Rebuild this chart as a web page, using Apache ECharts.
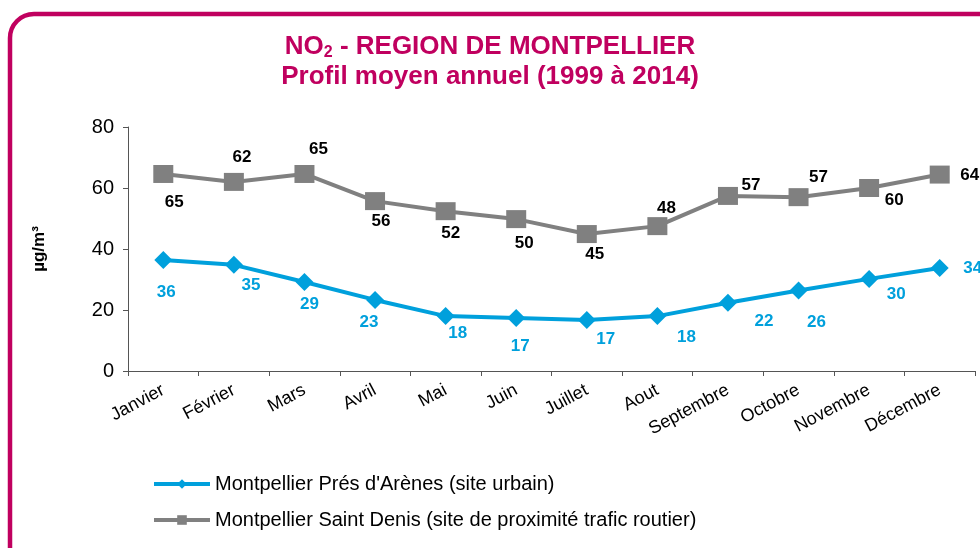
<!DOCTYPE html>
<html>
<head>
<meta charset="utf-8">
<script src="https://cdn.jsdelivr.net/npm/echarts@6/dist/echarts.min.js"></script>
<style>
  html, body { margin: 0; padding: 0; background: #fff; }
  #chart { width: 980px; height: 548px; }
</style>
</head>
<body>
<div id="chart"></div>
<script>
// data
var months = ['Janvier', 'Février', 'Mars', 'Avril', 'Mai', 'Juin', 'Juillet', 'Aout', 'Septembre', 'Octobre', 'Novembre', 'Décembre'];
var presArenes = [36.4, 34.8, 29.2, 23.3, 18.0, 17.4, 16.7, 18.0, 22.4, 26.4, 30.2, 33.8];
var saintDenis = [64.6, 62.0, 64.6, 55.7, 52.4, 49.8, 44.9, 47.5, 57.4, 57.0, 60.0, 64.4];
var yTicks = [0, 20, 40, 60, 80];
var seriesNames = ['Montpellier Prés d\'Arènes (site urbain)', 'Montpellier Saint Denis (site de proximité trafic routier)'];

var FONT = '"Liberation Sans", Arial, sans-serif';
var MAGENTA = '#c0005f';
var BLUE = '#00a0dc';
var GREY = '#808080';

// label placement (pixel offsets from each marker), as in the original
var blueOffsets = [[3, 32], [17, 20], [5, 22], [-6, 22], [12, 17], [4, 28], [19, 19], [29, 21], [36, 19], [18, 32], [27, 15], [33, 0]];
var greyOffsets = [[11, 28], [8, -25], [14, -25], [6, 20], [5, 22], [8, 24], [8, 20], [9, -18], [23, -11], [20, -20], [25, 12], [30, 1]];

function withLabels(values, offsets) {
  return values.map(function (v, i) {
    return { value: v, label: { offset: offsets[i] } };
  });
}

var myChart = echarts.init(document.getElementById('chart'));

var option = {
  animation: false,
  textStyle: { fontFamily: FONT },
  graphic: [{
    type: 'rect',
    shape: { x: 10, y: 14, width: 1000, height: 600, r: 24 },
    style: { fill: 'none', stroke: MAGENTA, lineWidth: 4.5 },
    silent: true
  }],
  title: {
    left: 'center',
    top: 27,
    text: '{t|NO}{s|2}{t| - REGION DE MONTPELLIER}\n{t|Profil moyen annuel (1999 à 2014)}',
    textStyle: {
      rich: {
        t: { fontFamily: FONT, fontSize: 26, fontWeight: 'bold', color: MAGENTA, lineHeight: 30 },
        s: { fontFamily: FONT, fontSize: 16, fontWeight: 'bold', color: MAGENTA, lineHeight: 30, padding: [11, 0, 0, 0] }
      }
    }
  },
  legend: {
    orient: 'vertical',
    left: 152,
    top: 474,
    padding: 0,
    itemWidth: 56,
    itemHeight: 12,
    itemGap: 16,
    textStyle: { fontFamily: FONT, fontSize: 20, color: '#000' },
    data: [
      { name: seriesNames[0], lineStyle: { width: 4 } },
      { name: seriesNames[1], lineStyle: { width: 4 } }
    ]
  },
  grid: { left: 128, right: 5, top: 127, bottom: 177 },
  xAxis: {
    type: 'category',
    data: months,
    axisLine: { lineStyle: { color: '#555', width: 1 } },
    axisTick: { show: true, length: 5, lineStyle: { color: '#555' } },
    axisLabel: { rotate: 28, fontSize: 18, color: '#000', fontFamily: FONT, margin: 18, interval: 0 },
    splitLine: { show: false }
  },
  yAxis: {
    type: 'value',
    min: yTicks[0],
    max: yTicks[yTicks.length - 1],
    interval: yTicks[1] - yTicks[0],
    name: 'µg/m³',
    nameLocation: 'middle',
    nameRotate: 90,
    nameGap: 80,
    nameTextStyle: { fontFamily: FONT, fontSize: 17, fontWeight: 'bold', color: '#000' },
    axisLine: { show: true, lineStyle: { color: '#555', width: 1 } },
    axisTick: { show: true, inside: false, length: 5, lineStyle: { color: '#555' } },
    axisLabel: { fontSize: 20, color: '#000', fontFamily: FONT, margin: 14 },
    splitLine: { show: false }
  },
  series: [{
    name: seriesNames[0],
    type: 'line',
    data: withLabels(presArenes, blueOffsets),
    symbol: 'diamond',
    symbolSize: 18,
    lineStyle: { color: BLUE, width: 4 },
    itemStyle: { color: BLUE },
    label: {
      show: true,
      position: 'inside',
      color: BLUE,
      fontSize: 17,
      fontWeight: 'bold',
      fontFamily: FONT,
      formatter: function (p) { return Math.round(p.value); }
    },
    z: 3
  }, {
    name: seriesNames[1],
    type: 'line',
    data: withLabels(saintDenis, greyOffsets),
    symbol: 'rect',
    symbolSize: [20, 18],
    lineStyle: { color: GREY, width: 4 },
    itemStyle: { color: GREY },
    label: {
      show: true,
      position: 'inside',
      color: '#000',
      fontSize: 17,
      fontWeight: 'bold',
      fontFamily: FONT,
      formatter: function (p) { return Math.round(p.value); }
    },
    z: 2
  }]
};

option && myChart.setOption(option);
</script>
</body>
</html>
